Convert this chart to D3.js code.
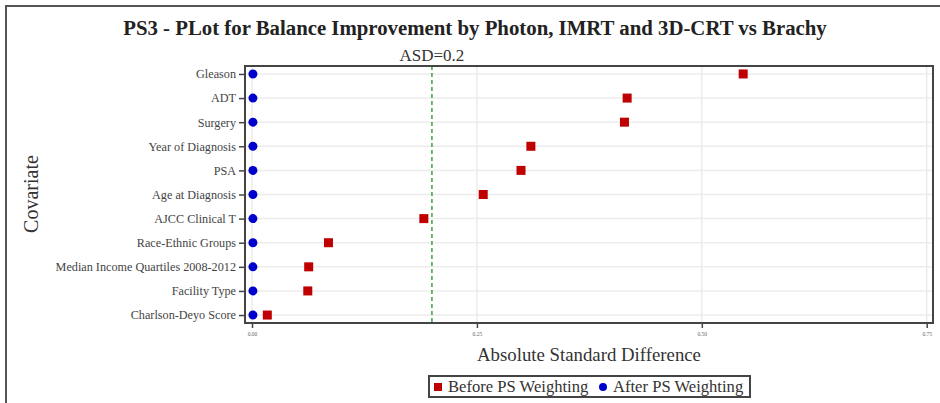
<!DOCTYPE html>
<html lang="en">
<head>
  <meta charset="UTF-8">
  <title>PS3 Balance Plot</title>
  <script src="https://d3js.org/d3.v7.min.js"></script>
  <style>
    body { margin: 0; background: #fff; }
    svg { display: block; font-family: "Liberation Serif", "Times New Roman", serif; }
  </style>
</head>
<body>
  <svg width="940" height="403"></svg>
  <script>
    const covariates = ["Gleason", "ADT", "Surgery", "Year of Diagnosis", "PSA", "Age at Diagnosis",
      "AJCC Clinical T", "Race-Ethnic Groups", "Median Income Quartiles 2008-2012", "Facility Type", "Charlson-Deyo Score"];
    const before = [0.546, 0.417, 0.414, 0.310, 0.299, 0.257, 0.191, 0.085, 0.063, 0.062, 0.017];
    const after = [0.001, 0.001, 0.001, 0.001, 0.001, 0.001, 0.001, 0.001, 0.001, 0.001, 0.001];
    const xTicks = [0, 0.25, 0.5, 0.75];
    const asd = 0.2;

    const svg = d3.select("svg");
    const plot = { left: 245, right: 933, top: 66, bottom: 323 };

    // outer frame (runs off the right and bottom edges)
    svg.append("path")
      .attr("d", "M6,410 V6 H950")
      .attr("fill", "none").attr("stroke", "#555").attr("stroke-width", 2);

    const x = d3.scaleLinear().domain([-0.0078, 0.757]).range([plot.left, plot.right]);
    const y = d3.scalePoint().domain(covariates).range([plot.top, plot.bottom]).padding(0.33);

    // grid
    svg.append("g").selectAll("line").data(covariates).join("line")
      .attr("x1", plot.left).attr("x2", plot.right)
      .attr("y1", d => y(d)).attr("y2", d => y(d))
      .attr("stroke", "#ececec").attr("stroke-width", 1.5);
    svg.append("g").selectAll("line").data(xTicks).join("line")
      .attr("x1", d => x(d)).attr("x2", d => x(d))
      .attr("y1", plot.top).attr("y2", plot.bottom)
      .attr("stroke", "#ececec").attr("stroke-width", 1.5);

    // reference line
    svg.append("line")
      .attr("x1", x(asd)).attr("x2", x(asd))
      .attr("y1", plot.top).attr("y2", plot.bottom)
      .attr("stroke", "#3aa33a").attr("stroke-width", 1.5).attr("stroke-dasharray", "4,3");
    svg.append("text")
      .attr("x", x(asd)).attr("y", 61)
      .attr("text-anchor", "middle").attr("font-size", 17).attr("fill", "#333")
      .text("ASD=" + asd);

    // axes
    const yAxis = svg.append("g")
      .attr("transform", `translate(${plot.left},0)`)
      .call(d3.axisLeft(y).tickSize(6).tickPadding(3));
    yAxis.select(".domain").remove();
    yAxis.selectAll("text").attr("font-size", 12.2).attr("fill", "#444")
      .attr("font-family", "Liberation Serif, serif");
    yAxis.selectAll("line").attr("stroke", "#444").attr("stroke-width", 1.5);

    const xAxis = svg.append("g")
      .attr("transform", `translate(0,${plot.bottom})`)
      .call(d3.axisBottom(x).tickValues(xTicks).tickFormat(d3.format(".2f")).tickSize(5).tickPadding(4));
    xAxis.select(".domain").remove();
    xAxis.selectAll("text").attr("font-size", 5.5).attr("fill", "#666")
      .attr("font-family", "Liberation Serif, serif");
    xAxis.selectAll("line").attr("stroke", "#444").attr("stroke-width", 1.5);

    // plot frame
    svg.append("rect")
      .attr("x", plot.left).attr("y", plot.top)
      .attr("width", plot.right - plot.left).attr("height", plot.bottom - plot.top)
      .attr("fill", "none").attr("stroke", "#444").attr("stroke-width", 2);

    // points
    svg.append("g").selectAll("rect").data(covariates).join("rect")
      .attr("x", (d, i) => x(before[i]) - 4.5).attr("y", d => y(d) - 4.5)
      .attr("width", 9).attr("height", 9)
      .attr("fill", "#c00000");
    svg.append("g").selectAll("circle").data(covariates).join("circle")
      .attr("cx", (d, i) => x(after[i])).attr("cy", d => y(d))
      .attr("r", 4.5).attr("fill", "#0000cc");

    // titles
    svg.append("text")
      .attr("x", 475).attr("y", 35).attr("text-anchor", "middle")
      .attr("font-size", 20.8).attr("font-weight", "bold").attr("fill", "#222")
      .text("PS3 - PLot for Balance Improvement by Photon, IMRT and 3D-CRT vs Brachy");
    svg.append("text")
      .attr("transform", `translate(38,194) rotate(-90)`)
      .attr("text-anchor", "middle").attr("font-size", 20).attr("fill", "#333")
      .text("Covariate");
    svg.append("text")
      .attr("x", 589).attr("y", 361).attr("text-anchor", "middle")
      .attr("font-size", 18.8).attr("fill", "#333")
      .text("Absolute Standard Difference");

    // legend
    const lg = svg.append("g").attr("transform", "translate(429,376)");
    lg.append("rect").attr("width", 321).attr("height", 21)
      .attr("fill", "#fff").attr("stroke", "#444").attr("stroke-width", 2);
    lg.append("rect").attr("x", 5).attr("y", 7).attr("width", 8).attr("height", 8).attr("fill", "#c00000");
    lg.append("text").attr("x", 19).attr("y", 16).attr("font-size", 16.6).attr("fill", "#333")
      .text("Before PS Weighting");
    lg.append("circle").attr("cx", 174).attr("cy", 11).attr("r", 4).attr("fill", "#0000cc");
    lg.append("text").attr("x", 184).attr("y", 16).attr("font-size", 16.6).attr("fill", "#333")
      .text("After PS Weighting");
  </script>
</body>
</html>
